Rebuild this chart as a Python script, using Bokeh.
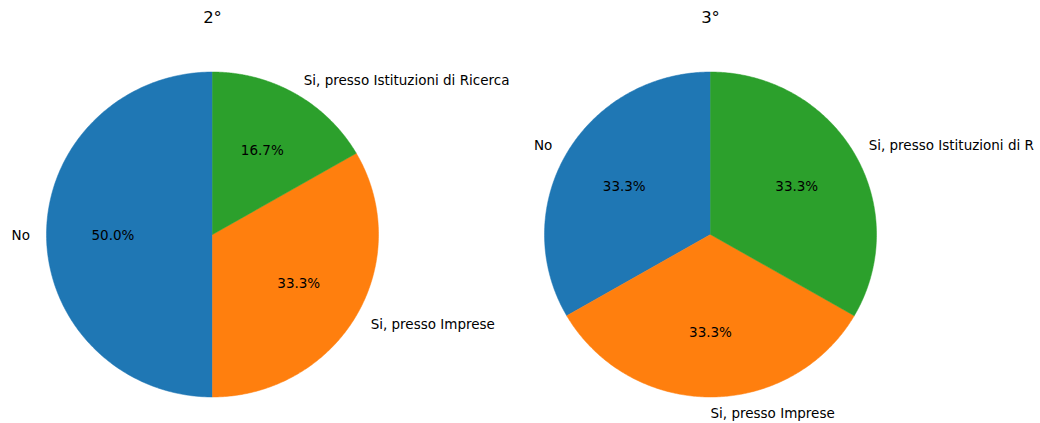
import numpy as np
from bokeh.plotting import figure
from bokeh.models import Range1d, ColumnDataSource
from bokeh.core.properties import value
from bokeh.embed import file_html
from bokeh.resources import INLINE

# ---- data ----
labels = ["No", "Si, presso Imprese", "Si, presso Istituzioni di Ricerca"]
values_2 = [3, 2, 1]   # 50.0%, 33.3%, 16.7%
values_3 = [1, 1, 1]   # 33.3% each
titles = ["2°", "3°"]
colors = ["#1f77b4", "#ff7f0e", "#2ca02c"]

# ---- layout (pixels) ----
W, H = 1034, 423
PAGE = 0
RX, RY = 166.0, 162.5          # pie radius in px along x / y
CX0, CY0 = 212.0, 234.0        # picture position of the first pie centre
PIE_GAP = 3.0                  # distance between pie centres (units of radius)
TITLE_Y = 17.0

x0 = (PAGE - CX0) / RX
x1 = (PAGE + W - CX0) / RX
y1 = (CY0 - PAGE) / RY
y0 = (CY0 - PAGE - H) / RY

FONT = value("DejaVu Sans")

p = figure(width=W, height=H, x_range=Range1d(x0, x1), y_range=Range1d(y0, y1),
           output_backend="svg", toolbar_location=None, min_border=0,
           x_axis_type=None, y_axis_type=None)
p.grid.visible = False
p.outline_line_color = None
p.background_fill_color = "white"
p.border_fill_color = "white"

for k, (vals, title) in enumerate([(values_2, titles[0]), (values_3, titles[1])]):
    cx = k * PIE_GAP
    total = float(sum(vals))
    fr = np.array(vals, dtype=float) / total
    cum = np.concatenate([[0.0], np.cumsum(fr)])
    xs, ys, pct_x, pct_y, pct_t = [], [], [], [], []
    lab_x, lab_y, lab_t, lab_align = [], [], [], []
    for i in range(len(vals)):
        a1 = np.deg2rad(90 + 360 * cum[i])
        a2 = np.deg2rad(90 + 360 * cum[i + 1])
        th = np.linspace(a1, a2, 200)
        xs.append(list(np.concatenate([[cx], cx + np.cos(th)])))
        ys.append(list(np.concatenate([[0.0], np.sin(th)])))
        mid = (a1 + a2) / 2
        c, s = np.cos(mid), np.sin(mid)
        pct_x.append(cx + 0.6 * c)
        pct_y.append(0.6 * s)
        pct_t.append(f"{100 * fr[i]:.1f}%")
        lab_x.append(cx + 1.1 * c)
        lab_y.append(1.1 * s)
        lab_t.append(labels[i])
        lab_align.append("left" if c > -1e-6 else "right")
    p.patches(xs=xs, ys=ys, fill_color=colors, line_color=colors, line_width=0.5)
    p.text(x=pct_x, y=pct_y, text=pct_t, text_align="center", text_baseline="middle",
           text_font=FONT, text_font_size="13.5px", text_color="black")
    src = ColumnDataSource(dict(x=lab_x, y=lab_y, t=lab_t, a=lab_align))
    p.text(x="x", y="y", text="t", text_align="a", source=src, text_baseline="middle",
           text_font=FONT, text_font_size="13.5px", text_color="black")
    p.text(x=[cx], y=[(CY0 - TITLE_Y) / RY], text=[title], text_align="center",
           text_baseline="middle", text_font=FONT, text_font_size="16.5px",
           text_color="black")

open("out.html", "w").write(file_html(p, INLINE))
